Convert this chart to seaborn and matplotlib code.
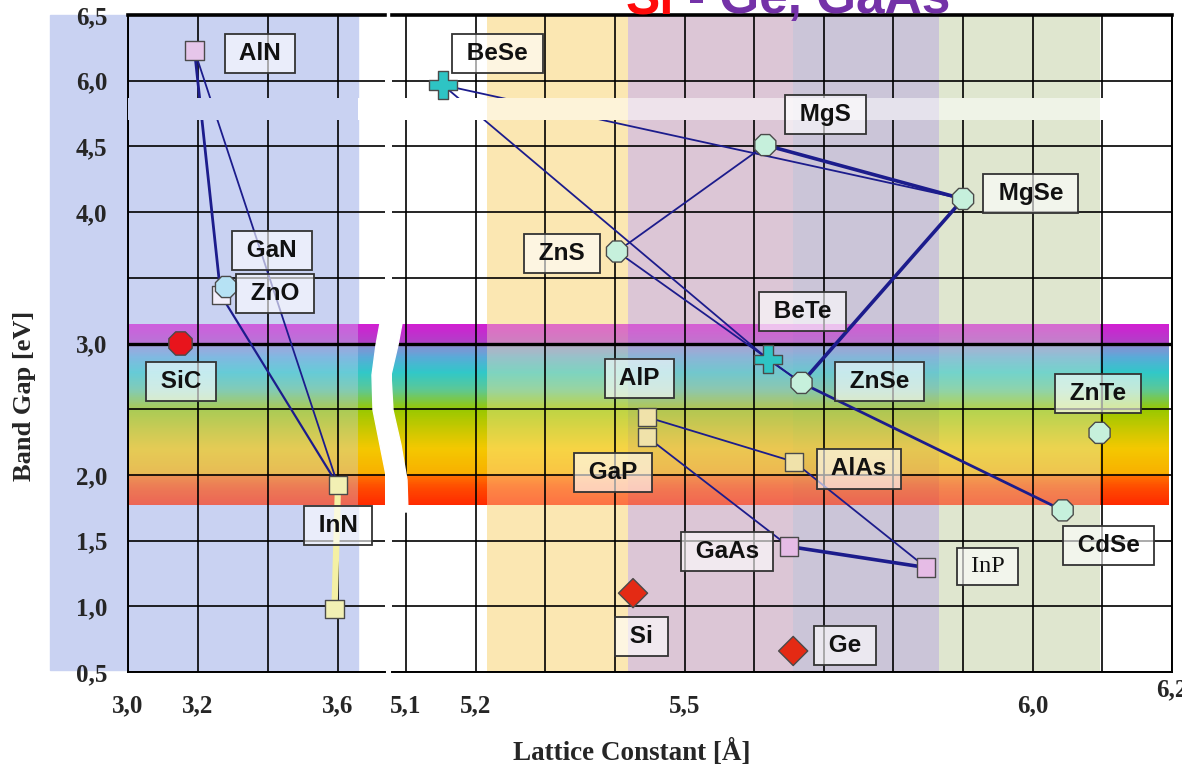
import numpy as np
import pandas as pd
import matplotlib
matplotlib.use("Agg")
import matplotlib.pyplot as plt
import seaborn as sns
from matplotlib.colors import LinearSegmentedColormap, Normalize, to_rgb
from matplotlib.patches import Rectangle, Polygon

# ------------------------------------------------------------------ data
left_materials = ["AlN", "GaN", "ZnO", "SiC", "InN", "InN"]
left_lattice = [3.19, 3.265, 3.28, 3.15, 3.60, 3.59]
left_gap = [6.23, 3.37, 3.43, 3.00, 1.92, 0.98]

right_materials = ["BeSe", "MgS", "MgSe", "ZnS", "BeTe", "ZnSe", "ZnTe", "CdSe",
                   "AlP", "GaP", "AlAs", "GaAs", "InP", "Si", "Ge"]
right_lattice = [5.153, 5.616, 5.900, 5.403, 5.620, 5.668, 6.096, 6.043,
                 5.446, 5.446, 5.657, 5.650, 5.847, 5.426, 5.656]
right_gap = [5.90, 4.53, 4.10, 3.70, 2.88, 2.70, 2.32, 1.73,
             2.44, 2.29, 2.10, 1.455, 1.295, 1.10, 0.66]

left_links = [("AlN", "GaN"), ("AlN", "InN"), ("GaN", "InN")]
right_links = [("BeSe", "MgSe"), ("BeSe", "BeTe"), ("BeTe", "ZnSe"), ("MgS", "MgSe"),
               ("ZnS", "MgS"), ("ZnS", "ZnSe"), ("MgSe", "ZnSe"), ("ZnSe", "CdSe"),
               ("AlP", "AlAs"), ("GaP", "GaAs"), ("AlAs", "InP"), ("GaAs", "InP")]

left_xticks = [3.0, 3.2, 3.4, 3.6]
left_xticklabels = ["3,0", "3,2", "", "3,6"]
right_xticks = [5.1, 5.2, 5.3, 5.4, 5.5, 5.6, 5.7, 5.8, 5.9, 6.0, 6.1, 6.2]
right_xticklabels = ["5,1", "5,2", "", "", "5,5", "", "", "", "", "6,0", "", ""]
last_xlabel = "6,2"
y_ticks = [0.5, 1.0, 1.5, 2.0, 2.5, 3.0, 3.5, 4.0, 4.5, 6.0, 6.5]
y_ticklabels = ["0,5", "1,0", "1,5", "2,0", "", "3,0", "", "4,0", "4,5", "6,0", "6,5"]

# ------------------------------------------------------------------ style
sns.set_style("white")
plt.rcParams["font.family"] = ["Liberation Sans", "DejaVu Sans"]
SERIF = ["Liberation Serif", "DejaVu Serif"]
SANS = ["Liberation Sans", "DejaVu Sans"]

kind = {"AlN": "square", "GaN": "square", "ZnO": "circle", "SiC": "blob", "InN": "square",
        "BeSe": "cross", "MgS": "circle", "MgSe": "circle", "ZnS": "circle", "BeTe": "cross",
        "ZnSe": "circle", "ZnTe": "circle", "CdSe": "circle", "AlP": "square", "GaP": "square",
        "AlAs": "square", "GaAs": "square", "InP": "square", "Si": "diamond", "Ge": "diamond"}
colors = {"AlN": "#e6c6ea", "GaN": "#f2eefa", "ZnO": "#b6e2f4", "SiC": "#e8141c", "InN": "#f2f0b4",
          "BeSe": "#2ec4c4", "MgS": "#c6f0dc", "MgSe": "#c6f0dc", "ZnS": "#c6f0dc", "BeTe": "#2ec4c4",
          "ZnSe": "#c6f0dc", "ZnTe": "#c6f0dc", "CdSe": "#c6f0dc", "AlP": "#f0e2aa", "GaP": "#f0e2aa",
          "AlAs": "#f0e2aa", "GaAs": "#e6bce6", "InP": "#e6bce6", "Si": "#e42a14", "Ge": "#e42a14"}
markers = {"square": "s", "circle": "8", "blob": "8", "cross": "P", "diamond": "D"}
msizes = {"square": 170, "circle": 270, "blob": 330, "cross": 420, "diamond": 220}
link_width = {("AlN", "GaN"): 2.0, ("MgS", "MgSe"): 2.6, ("MgSe", "ZnSe"): 2.6,
              ("GaAs", "InP"): 2.6, ("ZnSe", "CdSe"): 2.0, ("GaN", "InN"): 1.6}
LINE_C = "#1c1c8c"
BLUE_BG = "#c9d2f2"
WHITE = "#ffffff"

label_pos = {"AlN": (3.377, 6.205), "GaN": (3.411, 3.705), "ZnO": (3.42, 3.379),
             "SiC": (3.151, 2.712), "InN": (3.60, 1.614),
             "BeSe": (5.231, 6.205), "MgS": (5.702, 5.226), "MgSe": (5.997, 4.144),
             "ZnS": (5.324, 3.682), "BeTe": (5.669, 3.242), "ZnSe": (5.780, 2.712),
             "ZnTe": (6.094, 2.621), "CdSe": (6.109, 1.462), "AlP": (5.435, 2.735),
             "GaP": (5.397, 2.015), "AlAs": (5.751, 2.045), "GaAs": (5.561, 1.417),
             "InP": (5.935, 1.303), "Si": (5.438, 0.773), "Ge": (5.731, 0.705)}

XL = (3.0, 3.0 + 257 / 350)
XR = (5.1 - 14 / 696, 6.2)
# background segments: (x0, x1, colour)
left_segments = [(XL[0], 3.657, BLUE_BG), (3.657, XL[1], WHITE)]
right_segments = [(XR[0], 5.216, WHITE), (5.216, 5.419, "#fbe7b2"), (5.419, 5.656, "#dcc6d6"),
                  (5.656, 5.865, "#cbc5d8"), (5.865, 6.097, "#dfe6cf"), (6.097, 6.196, WHITE)]


def fwd(y):
    y = np.asarray(y, dtype=float)
    return np.where(y <= 4.5, y, np.where(y >= 6.0, y - 1.0, 4.5 + (y - 4.5) / 3.0))


def inv(t):
    t = np.asarray(t, dtype=float)
    return np.where(t <= 4.5, t, np.where(t >= 5.0, t + 1.0, 4.5 + (t - 4.5) * 3.0))


def blend(c, bg, a):
    c, bg = np.array(to_rgb(c)), np.array(to_rgb(bg))
    return tuple((1 - a) * c + a * bg)


Y0, Y1 = 0.5, 6.5
W, H = 1182, 765
fig = plt.figure(figsize=(W / 100, H / 100), dpi=100)


def fx(px):
    return px / W


def fy(py):
    return 1 - py / H


# light-blue backdrop of the nitride panel (reaches behind the tick labels)
fig.patches.append(Rectangle((fx(50), fy(670)), fx(358) - fx(50), fy(15) - fy(670),
                             transform=fig.transFigure, color=BLUE_BG, zorder=-5))

axL = fig.add_axes([fx(128), fy(672), fx(385) - fx(128), fy(15) - fy(672)])
axR = fig.add_axes([fx(392), fy(672), fx(1172) - fx(392), fy(15) - fy(672)])

# rainbow (visible spectrum) nodes
rb_nodes = [(1.77, "#ff2a00"), (1.90, "#ff4a00"), (1.99, "#ff7000"), (2.01, "#f8b000"),
            (2.20, "#f4c800"), (2.35, "#c8c800"), (2.50, "#98c800"), (2.65, "#5cc896"),
            (2.78, "#30c8c8"), (2.90, "#5aaad8"), (2.99, "#8c8cd2"), (3.01, "#b040c8"),
            (3.15, "#d21ed2")]
lo, hi = rb_nodes[0][0], rb_nodes[-1][0]
yedges = np.linspace(lo, hi, 280)
ycent = 0.5 * (yedges[:-1] + yedges[1:])
GAP = (5.1, 5.6)
gap_edges = np.array(GAP)


def spectrum_cmap(bg, a):
    return LinearSegmentedColormap.from_list(
        "spec", [((e - lo) / (hi - lo), blend(c, bg, a)) for e, c in rb_nodes])


def draw_panel(ax, names, xs, ys, links, xlim, segments, rb_alpha, gap_alpha):
    ax.set_facecolor("none")
    ax.set_yscale("function", functions=(fwd, inv))
    ax.set_xlim(*xlim)
    ax.set_ylim(Y0, Y1)
    for x0, x1, c in segments:
        # rainbow strip tinted by the background of this segment
        a = 0.0 if c == WHITE else rb_alpha
        ax.pcolormesh([x0, x1], yedges, ycent[:, None], cmap=spectrum_cmap(c, a),
                      norm=Normalize(lo, hi), shading="flat", zorder=0.2)
        # axis-break strip, drawn over lines / grid
        ga = 1.0 if c == WHITE else gap_alpha
        ax.pcolormesh([x0, x1], gap_edges, np.zeros((1, 1)),
                      cmap=LinearSegmentedColormap.from_list("g", [blend(WHITE, c, ga)] * 2),
                      shading="flat", zorder=2.6)
    ax.axhline(3.0, color="black", lw=2.4, zorder=1.7)
    pts = {}
    for n, x, y in zip(names, xs, ys):
        pts.setdefault(n, (x, y))
    for a, b in links:
        (x0, y0), (x1, y1) = pts[a], pts[b]
        ax.plot([x0, x1], [y0, y1], color=LINE_C,
                lw=link_width.get((a, b), 1.3), zorder=2, solid_capstyle="butt")
    df = pd.DataFrame({"lattice": xs, "gap": ys, "material": names,
                       "kind": [kind[n] for n in names]})
    sns.scatterplot(data=df, x="lattice", y="gap", hue="material", palette=colors,
                    style="kind", markers=markers, size="kind", sizes=msizes,
                    edgecolor="#4a4a4a", linewidth=1.0, legend=False, ax=ax, zorder=3)
    ax.set_xlabel("")
    ax.set_ylabel("")
    ax.set_xlim(*xlim)
    ax.set_ylim(Y0, Y1)
    for n in dict.fromkeys(names):
        lx, ly = label_pos[n]
        serif = n == "InP"
        ax.text(lx, ly, " " + n + " ", ha="center", va="center", fontsize=17.5,
                family=SERIF if serif else SANS, weight="normal" if serif else "bold",
                color="#111111", zorder=4,
                bbox=dict(boxstyle="square,pad=0.33", fc=(1, 1, 1, 0.62),
                          ec="#333333", lw=1.3))
    ax.grid(True, color="black", lw=1.2)
    ax.set_axisbelow("line")
    ax.set_yticks(y_ticks)
    ax.tick_params(axis="x", direction="out", length=9, width=1.2, pad=7,
                   labelsize=18, color="black")
    for s in ax.spines.values():
        s.set_color("black")
        s.set_linewidth(1.4)
    ax.spines["top"].set_linewidth(2.6)


# ---------------- left (nitrides)
draw_panel(axL, left_materials, left_lattice, left_gap, left_links, XL,
           left_segments, 0.35, 1.0)
i0, i1 = 4, 5
axL.plot([left_lattice[i0], left_lattice[i1]], [left_gap[i0], left_gap[i1]],
         color="#f4f0a4", lw=4.5, zorder=2.2, solid_capstyle="butt")
axL.set_xticks(left_xticks)
axL.set_xticklabels(left_xticklabels, family=SERIF, weight="bold", fontsize=18)
axL.set_yticklabels(y_ticklabels, family=SERIF, weight="bold", fontsize=18)
axL.tick_params(axis="y", direction="out", length=14.5, width=1.2, pad=0.5)
axL.spines["right"].set_visible(False)

# ---------------- right (II-VI / III-V)
for x0, x1, c in right_segments:
    if c != WHITE:
        axR.axvspan(x0, x1, color=c, zorder=0.1, lw=0)
draw_panel(axR, right_materials, right_lattice, right_gap, right_links, XR,
           right_segments, 0.38, 0.5)
axR.set_xticks(right_xticks)
axR.set_xticklabels(right_xticklabels, family=SERIF, weight="bold", fontsize=18)
axR.tick_params(axis="y", left=False, labelleft=False)
axR.spines["left"].set_visible(False)
axR.text(6.2, -0.027, last_xlabel, transform=axR.get_xaxis_transform(), ha="center",
         va="center", family=SERIF, weight="bold", fontsize=18, clip_on=False)

# wavy white break between panels
brk = [(381, 318), (376, 345), (372, 375), (373, 410), (380, 445), (387, 480), (386, 512),
       (408, 512), (407, 480), (401, 445), (393, 410), (391, 375), (398, 345), (403, 318)]
fig.patches.append(Polygon([(fx(a), fy(b)) for a, b in brk], closed=True,
                           transform=fig.transFigure, color="white", zorder=5))

# axis titles
fig.text(fx(25), fy(396), "Band Gap [eV]", rotation=90, ha="center", va="center",
         family=SERIF, weight="bold", fontsize=19)
fig.text(fx(632), fy(752), "Lattice Constant [Å]", ha="center", va="center",
         family=SERIF, weight="bold", fontsize=19.5)

# cut-off heading at the top
fig.text(fx(626), fy(13), "Si", color="#ff0a0a", ha="left", va="baseline",
         family=SANS, weight="bold", fontsize=37)
fig.text(fx(688), fy(13), "- Ge, GaAs", color="#7432a8", ha="left", va="baseline",
         family=SANS, weight="bold", fontsize=37)

fig.savefig("out.png", dpi=100)
